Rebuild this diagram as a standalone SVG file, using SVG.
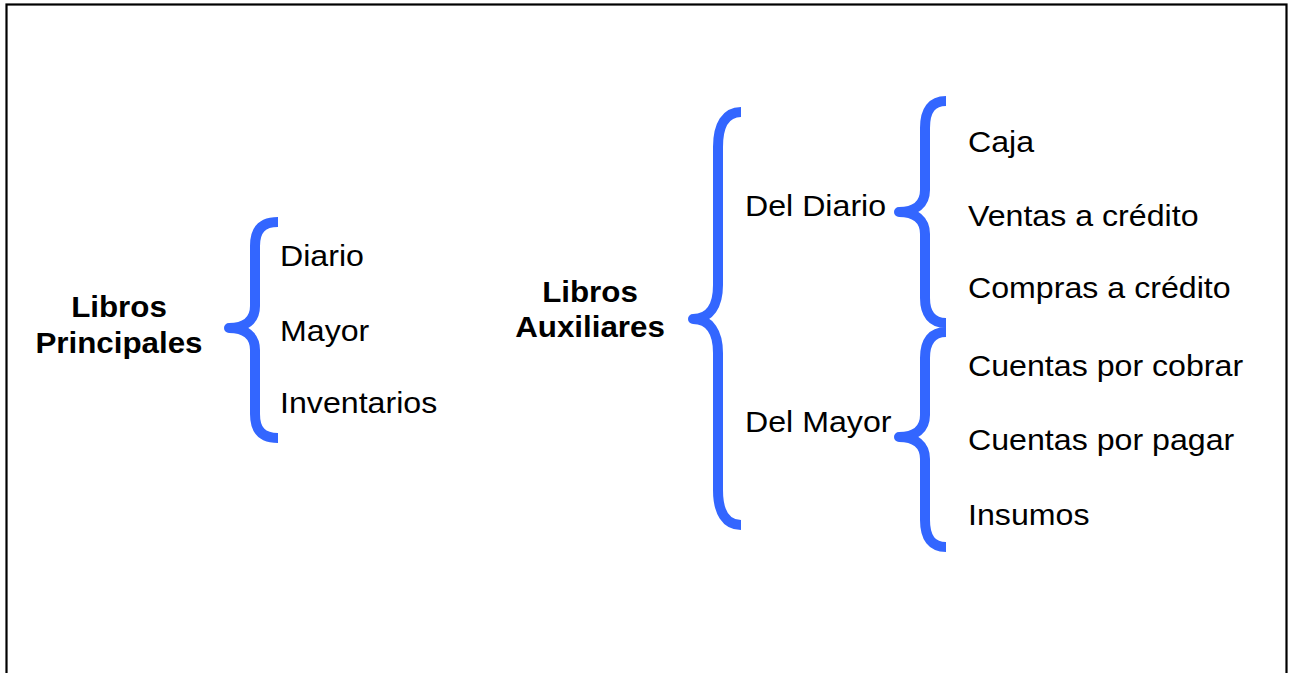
<svg xmlns="http://www.w3.org/2000/svg" width="1289" height="673" viewBox="0 0 1289 673">
  <style>
    .t { font-family: "Liberation Sans", Arial, sans-serif; font-size: 29.5px; fill: #000; }
    .b { font-weight: bold; text-anchor: middle; font-size: 29px; }
    .brace { fill: none; stroke: #3366ff; stroke-width: 10; stroke-linecap: butt; stroke-linejoin: round; }
  </style>
  <rect x="6.5" y="4.5" width="1280" height="700" fill="#fff" stroke="#000" stroke-width="2.2"/>

  <g id="connectors">
    <path class="brace" d="M278,222 C262,222 255,230 255,246 L255,306 C255,320 245,328 229,328 C245,328 255,336 255,350 L255,414 C255,430 262,438 278,438"/>
    <path class="brace" d="M741,112 C726,112 718,125 718,147 L718,285 C718,305 710,319 693,319 C710,319 718,333 718,353 L718,490 C718,512 726,525 741,525"/>
    <path class="brace" d="M946,101 C932,101 925,110 925,128 L925,190 C925,204 915,212 899,212 C915,212 925,220 925,234 L925,298 C925,314 932,323 946,323"/>
    <path class="brace" d="M946,332 C932,332 925,341 925,358 L925,415 C925,429 915,437 899,437 C915,437 925,445 925,459 L925,520 C925,538 932,547 946,547"/>
  </g>

  <g id="libros-principales">
    <text class="t b" transform="translate(119,317) scale(1.08,1)">Libros</text>
    <text class="t b" transform="translate(119,353) scale(1.08,1)">Principales</text>
  </g>
  <g id="diario"><text class="t" transform="translate(280,266) scale(1.09,1)">Diario</text></g>
  <g id="mayor"><text class="t" transform="translate(280,341) scale(1.09,1)">Mayor</text></g>
  <g id="inventarios"><text class="t" transform="translate(280,413) scale(1.09,1)">Inventarios</text></g>

  <g id="libros-auxiliares">
    <text class="t b" transform="translate(590,302) scale(1.08,1)">Libros</text>
    <text class="t b" transform="translate(590,337) scale(1.08,1)">Auxiliares</text>
  </g>
  <g id="del-diario"><text class="t" transform="translate(745,216) scale(1.09,1)">Del Diario</text></g>
  <g id="del-mayor"><text class="t" transform="translate(745,432) scale(1.09,1)">Del Mayor</text></g>

  <g id="caja"><text class="t" transform="translate(968,152) scale(1.09,1)">Caja</text></g>
  <g id="ventas-credito"><text class="t" transform="translate(968,226) scale(1.09,1)">Ventas a crédito</text></g>
  <g id="compras-credito"><text class="t" transform="translate(968,298) scale(1.09,1)">Compras a crédito</text></g>
  <g id="cuentas-cobrar"><text class="t" transform="translate(968,376) scale(1.09,1)">Cuentas por cobrar</text></g>
  <g id="cuentas-pagar"><text class="t" transform="translate(968,450) scale(1.09,1)">Cuentas por pagar</text></g>
  <g id="insumos"><text class="t" transform="translate(968,525) scale(1.09,1)">Insumos</text></g>
</svg>
